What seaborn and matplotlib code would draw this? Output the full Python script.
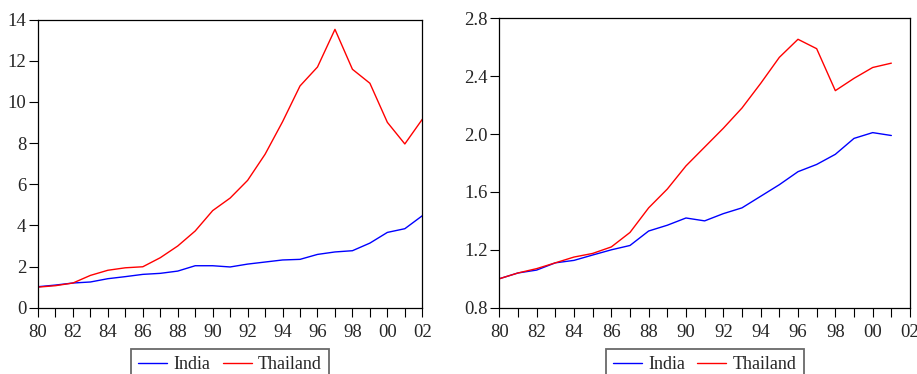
import numpy as np
import pandas as pd
import seaborn as sns
import matplotlib.pyplot as plt
from matplotlib.ticker import MultipleLocator, FuncFormatter

# years 1980-2002 (left panel), 1980-2001 (right panel)
years_left = list(range(1980, 2003))
india_left = [1.02, 1.10, 1.20, 1.25, 1.41, 1.51, 1.62, 1.67, 1.78, 2.04, 2.04, 1.98,
              2.12, 2.22, 2.32, 2.35, 2.59, 2.71, 2.77, 3.14, 3.66, 3.84, 4.47]
thailand_left = [1.00, 1.07, 1.20, 1.57, 1.82, 1.94, 1.99, 2.43, 3.00, 3.73, 4.72, 5.33,
                 6.19, 7.46, 9.04, 10.78, 11.70, 13.53, 11.59, 10.91, 9.01, 7.96, 9.16]

years_right = list(range(1980, 2002))
india_right = [1.00, 1.04, 1.06, 1.11, 1.127, 1.164, 1.20, 1.23, 1.33, 1.37, 1.42, 1.40,
               1.45, 1.49, 1.57, 1.65, 1.74, 1.79, 1.86, 1.97, 2.01, 1.99]
thailand_right = [1.00, 1.04, 1.07, 1.11, 1.15, 1.175, 1.22, 1.32, 1.49, 1.62, 1.78, 1.91,
                  2.04, 2.18, 2.35, 2.53, 2.655, 2.59, 2.30, 2.385, 2.46, 2.49]

sns.set_style('white')
plt.rcParams['font.family'] = ['Liberation Serif', 'DejaVu Serif']
plt.rcParams['font.size'] = 13.5


def long_df(years, india, thailand):
    df = pd.DataFrame({'Year': years, 'India': india, 'Thailand': thailand})
    return df.melt(id_vars='Year', var_name='Country', value_name='Value')


fig = plt.figure(figsize=(9.17, 3.74), dpi=100)
ax1 = fig.add_axes([38 / 917, 1 - 307.7 / 374, 384.3 / 917, 288 / 374])
ax2 = fig.add_axes([499.3 / 917, 1 - 307.7 / 374, 410.7 / 917, 289.4 / 374])

palette = {'India': '#0000ff', 'Thailand': '#ff0000'}

panels = [
    (ax1, long_df(years_left, india_left, thailand_left), (0, 14), 2),
    (ax2, long_df(years_right, india_right, thailand_right), (0.8, 2.8), 0.4),
]

for ax, df, ylim, ystep in panels:
    sns.lineplot(data=df, x='Year', y='Value', hue='Country', palette=palette,
                 linewidth=1.0, ax=ax)
    ax.set_xlim(1980, 2002)
    ax.set_ylim(*ylim)
    ax.xaxis.set_major_locator(MultipleLocator(1))
    ax.xaxis.set_major_formatter(FuncFormatter(
        lambda v, p: '%02d' % (int(round(v)) % 100) if int(round(v)) % 2 == 0 else ''))
    ax.yaxis.set_major_locator(MultipleLocator(ystep))
    if ystep < 1:
        ax.yaxis.set_major_formatter(FuncFormatter(lambda v, p: '%.1f' % v))
    ax.tick_params(direction='out', length=6.5, width=0.8, color='black',
                   labelsize=13.5, pad=2, bottom=True, left=True)
    ax.tick_params(axis='x', pad=5)
    for s in ax.spines.values():
        s.set_color('black')
        s.set_linewidth(0.9)
    ax.set_xlabel('')
    ax.set_ylabel('')
    top = (349 - 307.7) / ax.get_position().height / 374
    leg = ax.legend(loc='upper center', bbox_to_anchor=(0.5, -top), ncol=2,
                    frameon=True, fancybox=False, edgecolor='#444444',
                    handlelength=1.6, handletextpad=0.35, columnspacing=0.7,
                    borderpad=0.4, borderaxespad=0, fontsize=13)
    leg.get_frame().set_linewidth(1.3)
    leg.set_title(None)

fig.savefig('out.png', dpi=100)
